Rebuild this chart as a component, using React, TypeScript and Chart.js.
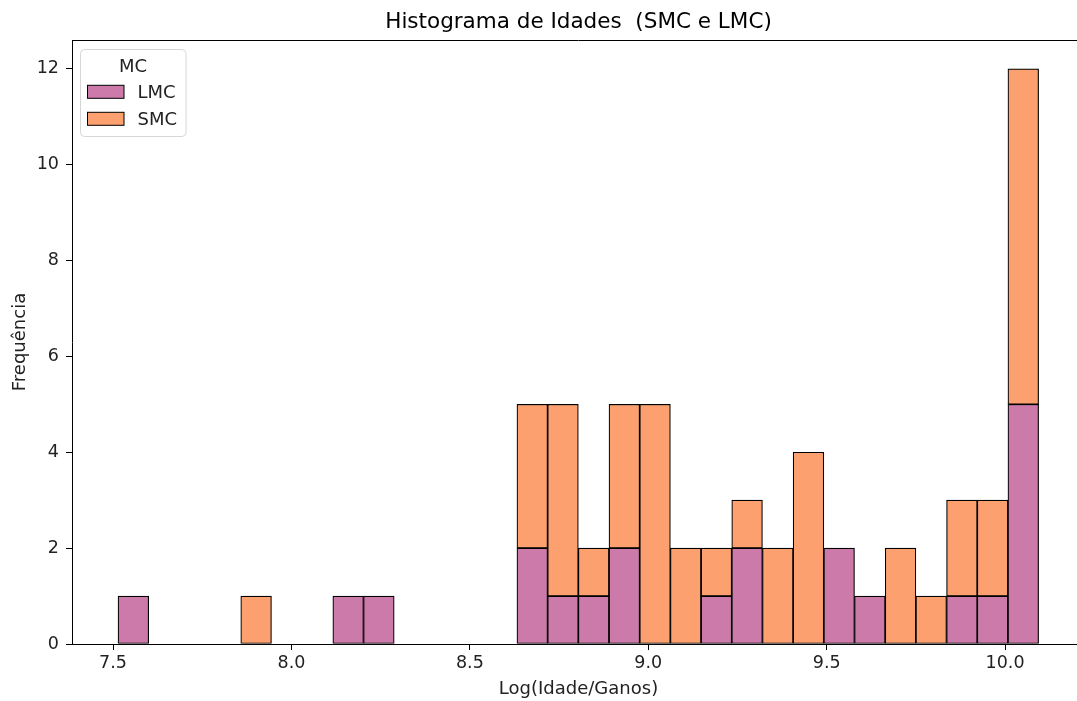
import React, { useEffect, useRef } from "react";
import { Chart, registerables } from "chart.js";

Chart.register(...registerables);

const TITLE = "Histograma de Idades  (SMC e LMC)";
const X_LABEL = "Log(Idade/Ganos)";
const Y_LABEL = "Frequência";
const LEGEND_TITLE = "MC";
const SERIES_NAMES = ["LMC", "SMC"];

const BIN_CENTERS = [
  7.557, 7.643, 7.729, 7.815, 7.901, 7.987, 8.073, 8.159, 8.245, 8.331,
  8.417, 8.503, 8.589, 8.675, 8.761, 8.847, 8.933, 9.019, 9.105, 9.191,
  9.277, 9.363, 9.449, 9.535, 9.621, 9.707, 9.793, 9.879, 9.965, 10.051,
];
const LMC_COUNTS = [
  1, 0, 0, 0, 0, 0, 0, 1, 1, 0,
  0, 0, 0, 2, 1, 1, 2, 0, 0, 1,
  2, 0, 0, 2, 1, 0, 0, 1, 1, 5,
];
const SMC_COUNTS = [
  0, 0, 0, 0, 1, 0, 0, 0, 0, 0,
  0, 0, 0, 3, 4, 1, 3, 5, 2, 1,
  1, 2, 4, 0, 0, 2, 1, 2, 2, 7,
];
const X_TICKS = [7.5, 8.0, 8.5, 9.0, 9.5, 10.0];
const Y_TICKS = [0, 2, 4, 6, 8, 10, 12];
const X_MIN = 7.385;
const X_MAX = 10.224;
const Y_MAX = 12.6;

const FONT = "'DejaVu Sans', sans-serif";
const COLORS = ["rgb(204,122,170)", "rgb(252,160,112)"];

const framePlugin = {
  id: "frame",
  afterDraw(chart: any) {
    const { ctx, chartArea } = chart;
    const { left, right, top, bottom } = chartArea;
    ctx.save();
    ctx.strokeStyle = "#000";
    ctx.lineWidth = 1;
    ctx.beginPath();
    ctx.moveTo(left, top + 0.5);
    ctx.lineTo(right, top + 0.5);
    ctx.moveTo(right - 0.5, top);
    ctx.lineTo(right - 0.5, bottom);
    ctx.stroke();

    // title, centred over the plot area
    ctx.fillStyle = "#000";
    ctx.font = `21.5px ${FONT}`;
    ctx.textAlign = "center";
    ctx.textBaseline = "alphabetic";
    ctx.fillText(TITLE, (left + right) / 2, 28);

    // legend
    const bx = 80.5, by = 49.5, bw = 105.5, bh = 87;
    ctx.beginPath();
    ctx.roundRect(bx, by, bw, bh, 4);
    ctx.fillStyle = "rgba(255,255,255,0.8)";
    ctx.fill();
    ctx.strokeStyle = "#d6d6d6";
    ctx.stroke();

    ctx.fillStyle = "#222";
    ctx.font = `18px ${FONT}`;
    ctx.textAlign = "center";
    ctx.fillText(LEGEND_TITLE, 133, 71.5);
    ctx.textAlign = "left";
    const rows = [98.3, 125.3];
    SERIES_NAMES.forEach((name, i) => {
      const y = rows[i];
      ctx.fillStyle = COLORS[i];
      ctx.fillRect(87.5, y - 13, 36.5, 13);
      ctx.strokeStyle = "#000";
      ctx.lineWidth = 1;
      ctx.strokeRect(87.5, y - 13, 36.5, 13);
      ctx.fillStyle = "#222";
      ctx.fillText(name, 137.5, y);
    });
    ctx.restore();
  },
};

export default function App() {
  const ref = useRef<HTMLCanvasElement | null>(null);

  useEffect(() => {
    document.body.style.margin = "0";
    document.body.style.overflow = "hidden";
    const canvas = ref.current;
    if (!canvas) return;
    const counts = [LMC_COUNTS, SMC_COUNTS];
    const chart = new Chart(canvas, {
      type: "bar",
      data: {
        datasets: SERIES_NAMES.map((name, s) => ({
          label: name,
          data: BIN_CENTERS.map((x, i) => ({ x, y: counts[s][i] })),
          backgroundColor: COLORS[s],
          borderColor: "#000",
          borderWidth: 1.2,
          borderSkipped: false,
          barPercentage: 1,
          categoryPercentage: 1,
        })),
      },
      options: {
        responsive: false,
        animation: false,
        devicePixelRatio: 1,
        layout: { padding: { left: 0, right: 15, top: 40, bottom: 0 } },
        plugins: {
          legend: { display: false },
          tooltip: { enabled: false },
          title: { display: false },
        },
        scales: {
          x: {
            type: "linear",
            stacked: true,
            min: X_MIN,
            max: X_MAX,
            offset: false,
            afterBuildTicks: (s: any) => {
              s.ticks = X_TICKS.map((v) => ({ value: v }));
            },
            afterFit: (s: any) => {
              s.height = 57;
            },
            grid: {
              display: true,
              drawOnChartArea: false,
              drawTicks: true,
              tickLength: 6,
              tickColor: "#000",
              tickWidth: 1,
              offset: false,
            },
            border: { display: true, color: "#000", width: 1 },
            ticks: {
              color: "#222",
              font: { family: FONT, size: 17.5 },
              padding: 3,
              maxRotation: 0,
              autoSkip: false,
              callback: (v: any) => Number(v).toFixed(1),
            },
            title: {
              display: true,
              text: X_LABEL,
              color: "#222",
              font: { family: FONT, size: 18 },
              padding: { top: 0, bottom: 1 },
            },
          },
          y: {
            stacked: true,
            min: 0,
            max: Y_MAX,
            afterBuildTicks: (s: any) => {
              s.ticks = Y_TICKS.map((v) => ({ value: v }));
            },
            afterFit: (s: any) => {
              s.width = 72;
            },
            grid: {
              display: true,
              drawOnChartArea: false,
              drawTicks: true,
              tickLength: 6,
              tickColor: "#000",
              tickWidth: 1,
            },
            border: { display: true, color: "#000", width: 1 },
            ticks: {
              color: "#222",
              font: { family: FONT, size: 17.5 },
              padding: 7,
              autoSkip: false,
              callback: (v: any) => String(v),
            },
            title: {
              display: true,
              text: Y_LABEL,
              color: "#222",
              font: { family: FONT, size: 18 },
              padding: { top: 10, bottom: 0 },
            },
          },
        },
      },
      plugins: [framePlugin],
    } as any);
    return () => chart.destroy();
  }, []);

  return (
    <div
      style={{
        position: "fixed",
        left: 0,
        top: 0,
        width: 1077,
        height: 701,
        overflow: "hidden",
        background: "#fff",
      }}
    >
      <canvas ref={ref} width={1100} height={701} style={{ display: "block" }} />
    </div>
  );
}
